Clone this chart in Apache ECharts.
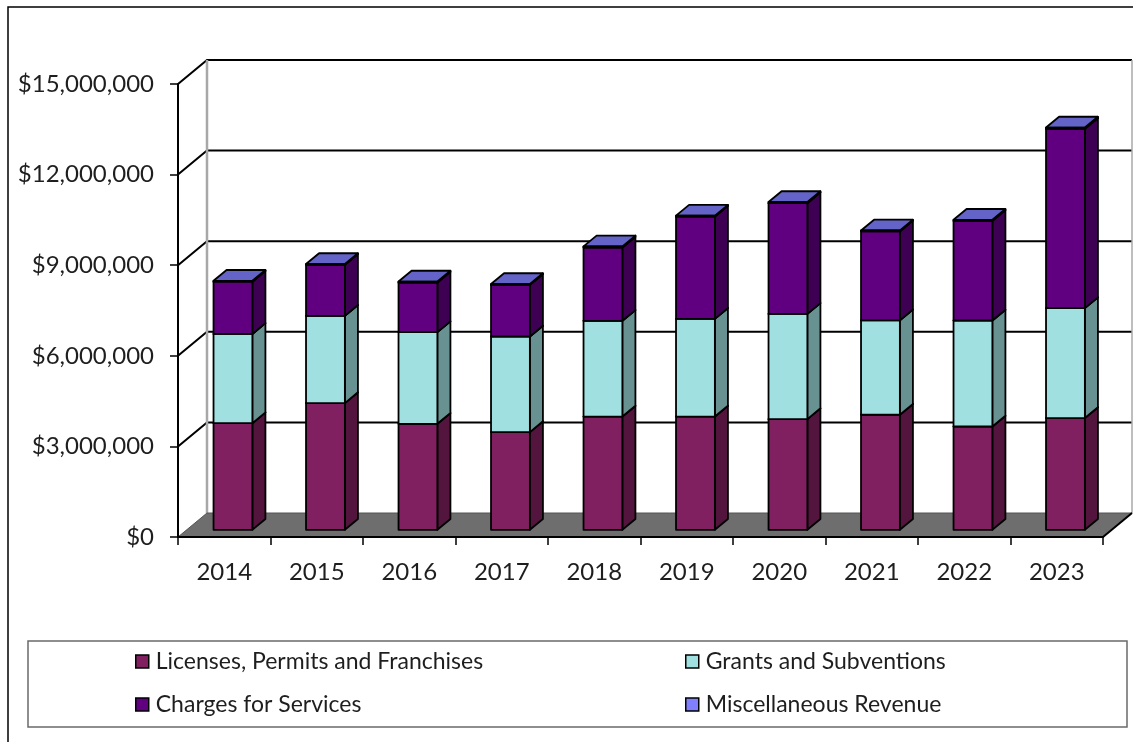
<!DOCTYPE html>
<html>
<head>
<meta charset="utf-8">
<title>Revenue by Source, 2014–2023</title>
<script src="https://cdn.jsdelivr.net/npm/echarts@6/dist/echarts.min.js"></script>
<style>
  html, body { margin: 0; padding: 0; background: #ffffff; }
  #chart { width: 1133px; height: 742px; }
</style>
</head>
<body>
<div id="chart"></div>
<script>
// Fiscal years on the category axis
const years = ['2014', '2015', '2016', '2017', '2018', '2019', '2020', '2021', '2022', '2023'];

// Revenue by source, in dollars
const licenses = [3530000, 4195000, 3510000, 3235000, 3750000, 3750000, 3665000, 3810000, 3420000, 3700000];
const grants   = [2955000, 2890000, 3035000, 3165000, 3170000, 3235000, 3485000, 3125000, 3510000, 3640000];
const charges  = [1730000, 1690000, 1640000, 1710000, 2425000, 3385000, 3665000, 2945000, 3300000, 5935000];
const misc     = [30000, 25000, 35000, 28000, 40000, 32000, 38000, 30000, 35000, 45000];

// Value-axis ticks (also used for the wall gridlines)
const valueTicks = [0, 3000000, 6000000, 9000000, 12000000, 15000000];

const seriesNames = ['Licenses, Permits and Franchises', 'Grants and Subventions', 'Charges for Services', 'Miscellaneous Revenue'];
const stacks = [licenses, grants, charges, misc];

// Face colours: front, side (shaded) and top
const palette = [
  { front: '#802060', side: '#53153e', top: '#661a4d' },
  { front: '#a0e0e0', side: '#689191', top: '#80b3b3' },
  { front: '#600080', side: '#3e0053', top: '#4d0066' },
  { front: '#8080ff', side: '#5353a6', top: '#6464c8' }
];

// Oblique projection of the depth axis (pixels from front plane to back wall)
const DEPTH_X = 29;
const DEPTH_Y = -24;
const BAR_FRONT = 0.30;   // front face of the columns, as a fraction of the depth
const BAR_DEPTH = 0.45;   // thickness of the columns, as a fraction of the depth
const BAR_WIDTH = 0.42;   // front-face width as a fraction of the category band

function stackBase(k, i) {
  let s = 0;
  for (let j = 0; j < k; j++) s += stacks[j][i];
  return s;
}

const FONT = 'Lato, "Open Sans", sans-serif';

function formatMoney(v) {
  return '$' + Math.round(v).toLocaleString('en-US');
}

// Horizontal gridlines on the side wall and back wall
function renderWall(params, api) {
  const v = api.value(1);
  const band = api.size([1, 0])[0];
  const p = api.coord([0, v]);
  const xL = p[0] - band / 2;
  const xR = api.coord([years.length - 1, v])[0] + band / 2;
  const y = p[1];
  if (v === 0) return { type: 'group', children: [] };
  return {
    type: 'polyline',
    shape: { points: [[xL, y], [xL + DEPTH_X, y + DEPTH_Y], [xR + DEPTH_X, y + DEPTH_Y]] },
    style: { stroke: '#000', lineWidth: 2, fill: null }
  };
}

// Floor plane and the wall edges
function renderFloor(params, api) {
  const band = api.size([1, 0])[0];
  const p0 = api.coord([0, 0]);
  const xL = p0[0] - band / 2;
  const xR = api.coord([years.length - 1, 0])[0] + band / 2;
  const y0 = p0[1];
  const yTop = api.coord([0, valueTicks[valueTicks.length - 1]])[1];
  return {
    type: 'group',
    children: [
      { type: 'line', shape: { x1: xL + DEPTH_X, y1: yTop + DEPTH_Y, x2: xL + DEPTH_X, y2: y0 + DEPTH_Y },
        style: { stroke: '#a8a8a8', lineWidth: 2.5 } },
      { type: 'line', shape: { x1: xR + DEPTH_X, y1: yTop + DEPTH_Y, x2: xR + DEPTH_X, y2: y0 + DEPTH_Y },
        style: { stroke: '#a8a8a8', lineWidth: 1.5 } },
      { type: 'polygon',
        shape: { points: [[xL, y0], [xR, y0], [xR + DEPTH_X, y0 + DEPTH_Y], [xL + DEPTH_X, y0 + DEPTH_Y]] },
        style: { fill: '#6e6e6e', stroke: '#555', lineWidth: 1 } },
      { type: 'line', shape: { x1: xR, y1: y0, x2: xR + DEPTH_X, y2: y0 + DEPTH_Y },
        style: { stroke: '#000', lineWidth: 2 } }
    ]
  };
}

// One stacked 3D column segment
function columnRenderer(k) {
  const c = palette[k];
  return function (params, api) {
    const i = api.value(0);
    const base = stackBase(k, i);
    const top = base + api.value(1);
    const band = api.size([1, 0])[0];
    const w = band * BAR_WIDTH;
    const pBase = api.coord([i, base]);
    const pTop = api.coord([i, top]);
    const fx = DEPTH_X * BAR_FRONT, fy = DEPTH_Y * BAR_FRONT;
    const dx = DEPTH_X * BAR_DEPTH, dy = DEPTH_Y * BAR_DEPTH;
    const xl = pBase[0] - w / 2 + fx;
    const xr = xl + w;
    const yb = pBase[1] + fy;
    const yt = pTop[1] + fy;
    const edge = { stroke: '#000', lineWidth: 1.8, lineJoin: 'round' };
    return {
      type: 'group',
      children: [
        { type: 'polygon', shape: { points: [[xr, yt], [xr + dx, yt + dy], [xr + dx, yb + dy], [xr, yb]] },
          style: Object.assign({ fill: c.side }, edge) },
        { type: 'polygon', shape: { points: [[xl, yt], [xr, yt], [xr + dx, yt + dy], [xl + dx, yt + dy]] },
          style: Object.assign({ fill: c.top }, edge) },
        { type: 'rect', shape: { x: xl, y: yt, width: w, height: yb - yt },
          style: Object.assign({ fill: c.front }, edge) }
      ]
    };
  };
}

const columnSeries = stacks.map((arr, k) => ({
  name: seriesNames[k],
  type: 'custom',
  renderItem: columnRenderer(k),
  encode: { x: 0, y: 1 },
  data: arr.map((v, i) => [i, v]),
  itemStyle: { color: palette[k].front },
  z: 5
}));

const legendCommon = {
  orient: 'vertical',
  icon: 'rect',
  padding: 0,
  itemWidth: 13,
  itemHeight: 13,
  itemGap: 20,
  itemStyle: { borderColor: '#000', borderWidth: 1.5 },
  textStyle: { fontFamily: FONT, fontSize: 23, color: '#1e1e1e', lineHeight: 23, padding: [0, 0, 0, 2] },
  selectedMode: false
};

const chart = echarts.init(document.getElementById('chart'), null, { renderer: 'canvas' });

chart.setOption({
  animation: false,
  backgroundColor: '#ffffff',
  grid: { left: 178, right: 30, top: 84, bottom: 205, containLabel: false },
  xAxis: {
    type: 'category',
    data: years,
    boundaryGap: true,
    z: 10,
    axisLine: { show: true, lineStyle: { color: '#000', width: 2 } },
    axisTick: { show: true, length: 8, lineStyle: { color: '#000', width: 1.5 } },
    axisLabel: { margin: 23, fontFamily: FONT, fontSize: 24, color: '#1e1e1e' },
    splitLine: { show: false }
  },
  yAxis: {
    type: 'value',
    min: valueTicks[0],
    max: valueTicks[valueTicks.length - 1],
    interval: valueTicks[1] - valueTicks[0],
    z: 10,
    axisLine: { show: true, lineStyle: { color: '#000', width: 2 } },
    axisTick: { show: true, length: 8, lineStyle: { color: '#000', width: 1.5 } },
    axisLabel: { margin: 24, fontFamily: FONT, fontSize: 24, color: '#1e1e1e', formatter: formatMoney },
    splitLine: { show: false }
  },
  legend: [
    Object.assign({ left: 135, top: 650, data: [seriesNames[0], seriesNames[2]] }, legendCommon),
    Object.assign({ left: 685, top: 650, data: [seriesNames[1], seriesNames[3]] }, legendCommon)
  ],
  graphic: [
    { type: 'rect', z: -10, shape: { x: 8, y: 7, width: 1140, height: 750 },
      style: { fill: null, stroke: '#000', lineWidth: 1.5 } },
    { type: 'rect', z: -10, shape: { x: 28, y: 641, width: 1099, height: 86 },
      style: { fill: null, stroke: '#6a6a6a', lineWidth: 1.5 } }
  ],
  series: [
    {
      name: 'walls',
      type: 'custom',
      renderItem: renderWall,
      encode: { x: 0, y: 1 },
      data: valueTicks.map(v => [0, v]),
      silent: true,
      z: 1
    },
    {
      name: 'floor',
      type: 'custom',
      renderItem: renderFloor,
      encode: { x: 0, y: 1 },
      data: [[0, 0]],
      silent: true,
      z: 2
    }
  ].concat(columnSeries)
});
</script>
</body>
</html>
